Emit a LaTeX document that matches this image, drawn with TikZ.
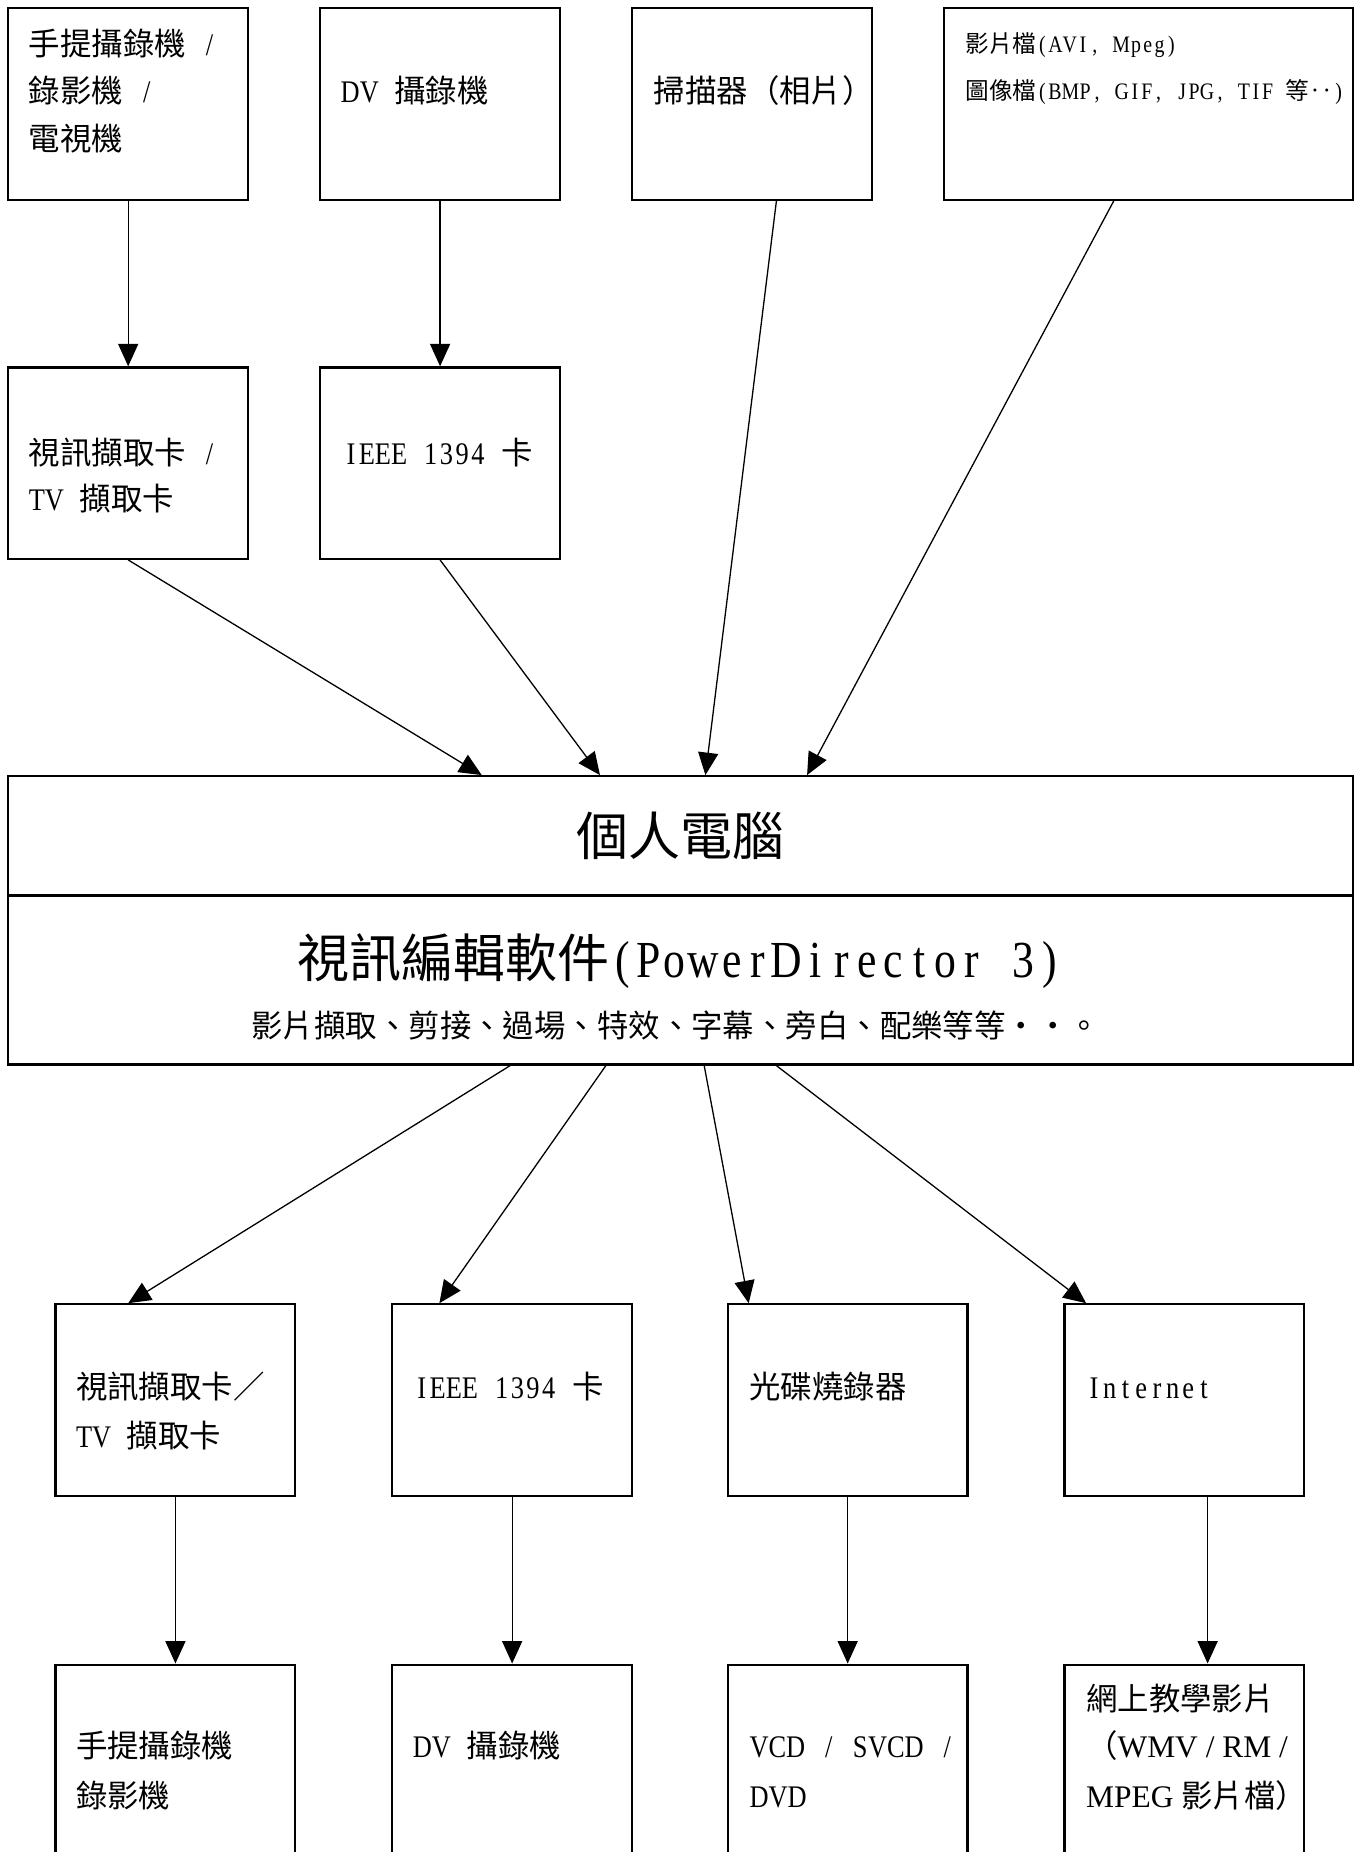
\documentclass[tikz,border=0pt]{standalone}
\usepackage{fontspec}
\setmainfont{Noto Sans CJK TC}
\newfontfamily\latn[FakeStretch=0.84]{Liberation Serif}
\newfontfamily\tnr{Liberation Serif}
\usetikzlibrary{arrows.meta,fit,calc}
\makeatletter
\newcommand\mono[1]{{\latn\@tfor\mch:=#1\do{\setbox0\hbox{\mch}\ifdim\wd0<0.5em\makebox[0.5em][c]{\mch}\else\box0\fi}}}
\makeatother
\tikzset{
  boxn/.style={draw, line width=0.95pt, inner sep=0pt, fit={#1}},
  txt/.style={anchor=base west, inner sep=0pt, font=\fontsize{13.3}{16}\selectfont},
  smalltxt/.style={anchor=base west, inner sep=0pt, font=\fontsize{10}{12}\selectfont},
  bigtxt/.style={anchor=base, inner sep=0pt, font=\fontsize{22}{26}\selectfont},
  arr/.style={line width=0.55pt, -{Triangle[length=9.5pt,width=8.5pt]}}
}
\begin{document}
\begin{tikzpicture}[x=0.5pt,y=-0.5pt]
\useasboundingbox (0,0) rectangle (1152,1567.6);
\clip (0,0) rectangle (1152,1567.6);
% boxes
\node[boxn={(7,7)(210,169)}] (a1) {};
\node[boxn={(271,7)(474,169)}] (a2) {};
\node[boxn={(535,7)(738,169)}] (a3) {};
\node[boxn={(799,7)(1145,169)}] (a4) {};
\node[boxn={(7,311)(210,473)}] (b1) {};
\node[boxn={(271,311)(474,473)}] (b2) {};
\node[boxn={(7,657)(1145,758)}] (pctop) {};
\node[boxn={(7,758)(1145,901)}] (pcbot) {};
\node[boxn={(47,1104)(250,1266)}] (c1) {};
\node[boxn={(332,1104)(535,1266)}] (c2) {};
\node[boxn={(616,1104)(819,1266)}] (c3) {};
\node[boxn={(901,1104)(1104,1266)}] (c4) {};
\node[boxn={(47,1409)(250,1590)}] (d1) {};
\node[boxn={(332,1409)(535,1590)}] (d2) {};
\node[boxn={(616,1409)(819,1590)}] (d3) {};
\node[boxn={(901,1409)(1104,1590)}] (d4) {};
% texts
\node[txt] (a1t1) at (24,47) {手提攝錄機\mono{~/}};
\node[txt] (a1t2) at (24,87) {錄影機\mono{~/}};
\node[txt] (a1t3) at (24,127) {電視機};
\node[txt] (a2t1) at (288,87) {\mono{DV~}攝錄機};
\node[txt] (a3t1) at (553,87) {掃描器（相片）};
\node[smalltxt] (a4t1) at (817,44.6) {影片檔\mono{(AVI,~Mpeg)}};
\node[smalltxt] (a4t2) at (817,84.6) {圖像檔\mono{(BMP,~GIF,~JPG,~TIF~}等‥\mono{)}};
\node[txt] (b1t1) at (24,393) {視訊擷取卡\mono{~/}};
\node[txt] (b1t2) at (24,432) {\mono{TV~}擷取卡};
\node[txt] (b2t1) at (290,393) {\mono{IEEE~1394~}卡};
\node[bigtxt] (pct1) at (576,724) {個人電腦};
\node[bigtxt] (pct2) at (575.5,827) {視訊編輯軟件\mono{(PowerDirector~3)}};
\node[anchor=base, inner sep=0pt, font=\fontsize{13.3}{16}\selectfont] (pct3) at (572,878) {影片擷取、剪接、過場、特效、字幕、旁白、配樂等等・・。};
\node[txt] (c1t1) at (64,1184) {視訊擷取卡／};
\node[txt] (c1t2) at (64,1225) {\mono{TV~}擷取卡};
\node[txt] (c2t1) at (350,1184) {\mono{IEEE~1394~}卡};
\node[txt] (c3t1) at (634,1184) {光碟燒錄器};
\node[txt] (c4t1) at (919,1184) {\mono{Internet}};
\node[txt] (d1t1) at (64,1488) {手提攝錄機};
\node[txt] (d1t2) at (64,1530) {錄影機};
\node[txt] (d2t1) at (349,1488) {\mono{DV~}攝錄機};
\node[txt] (d3t1) at (634,1488) {\mono{VCD~/~SVCD~/}};
\node[txt] (d3t2) at (634,1530) {\mono{DVD}};
\node[txt] (d4t1) at (919,1448) {網上教學影片};
\node[txt] (d4t2) at (919,1488) {（{\tnr WMV / RM /}};
\node[txt] (d4t3) at (919,1530) {{\tnr MPEG }影片檔）};
% connectors
\draw[arr] (a1.south) -- (b1.north);
\draw[arr] (a2.south) -- (b2.north);
\draw[arr] (b1.south) -- ($(pctop.north west)!0.3524!(pctop.north east)$);
\draw[arr] (b2.south) -- ($(pctop.north west)!0.4402!(pctop.north east)$);
\draw[arr] ($(a3.south west)!0.601!(a3.south east)$) -- ($(pctop.north west)!0.5185!(pctop.north east)$);
\draw[arr] ($(a4.south west)!0.416!(a4.south east)$) -- ($(pctop.north west)!0.594!(pctop.north east)$);
\draw[arr] ($(pcbot.south west)!0.3735!(pcbot.south east)$) -- ($(c1.north west)!0.305!(c1.north east)$);
\draw[arr] ($(pcbot.south west)!0.4446!(pcbot.south east)$) -- ($(c2.north west)!0.1995!(c2.north east)$);
\draw[arr] ($(pcbot.south west)!0.5176!(pcbot.south east)$) -- ($(c3.north west)!0.091!(c3.north east)$);
\draw[arr] ($(pcbot.south west)!0.5712!(pcbot.south east)$) -- ($(c4.north west)!0.094!(c4.north east)$);
\draw[arr] (c1.south) -- (d1.north);
\draw[arr] (c2.south) -- (d2.north);
\draw[arr] (c3.south) -- (d3.north);
\draw[arr] ($(c4.south west)!0.596!(c4.south east)$) -- ($(d4.north west)!0.596!(d4.north east)$);
\end{tikzpicture}
\end{document}
